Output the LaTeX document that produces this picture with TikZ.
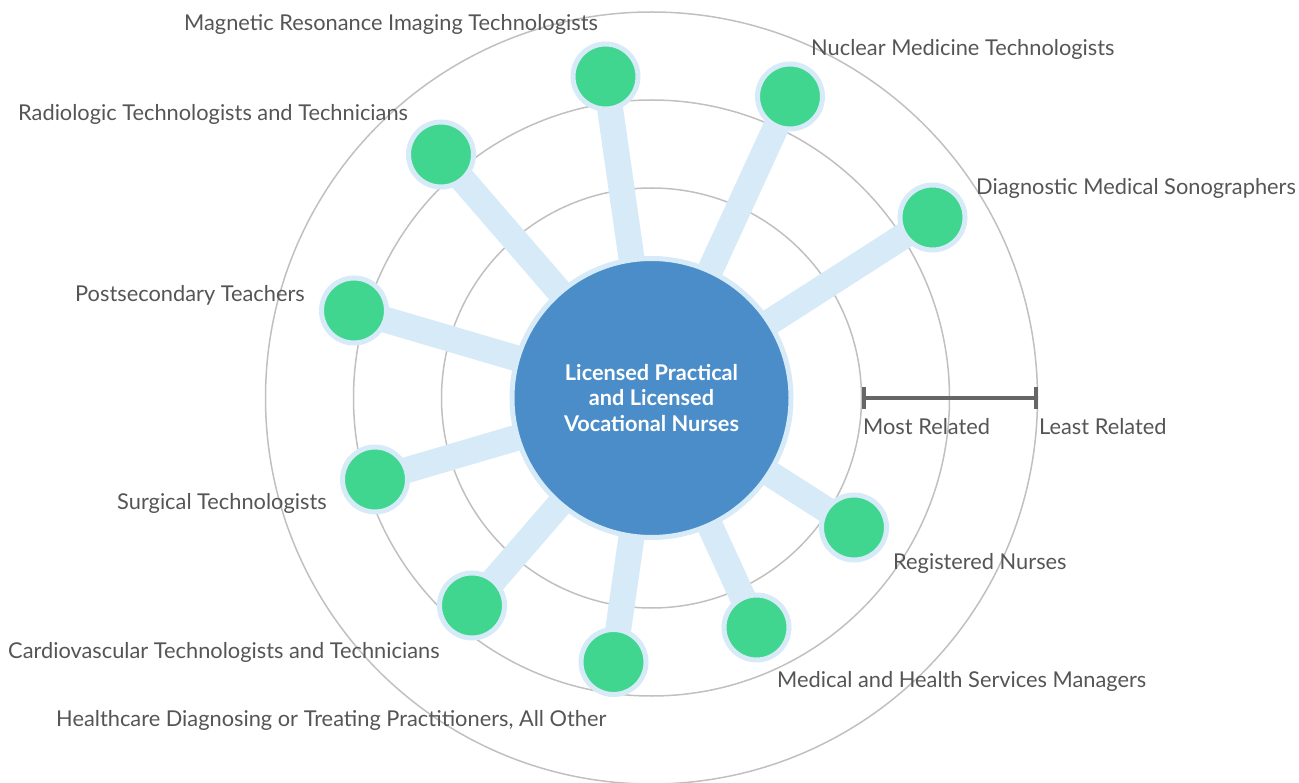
\documentclass[tikz,border=0pt]{standalone}
\usepackage{fontspec}
\setmainfont{Lato}
\usepackage{xcolor}
\usepackage{tikz}
\usetikzlibrary{arrows.meta, backgrounds}

\definecolor{jobgreen}{RGB}{65,214,143}
\definecolor{hubblue}{RGB}{74,141,200}
\definecolor{pale}{RGB}{214,234,248}
\definecolor{ringgray}{RGB}{192,192,192}
\definecolor{txtgray}{RGB}{85,85,85}
\definecolor{bargray}{RGB}{102,102,102}

\begin{document}
\begin{tikzpicture}[x=1pt, y=-1pt,
        ring/.style={draw=ringgray, line width=1.5pt},
        spoke/.style={draw=pale, line width=26pt},
        hub/.style={circle, fill=hubblue, draw=pale, line width=5pt, minimum size=279pt, inner sep=0pt,
            text=white, align=center, font=\fontsize{21.7pt}{25.5pt}\selectfont\bfseries},
        job/.style={circle, fill=jobgreen, draw=pale, line width=5pt, minimum size=65pt, inner sep=0pt},
        lbl/.style={anchor=base west, text=txtgray, inner sep=0pt, font=\fontsize{21.8pt}{25pt}\selectfont}]
        \useasboundingbox (0,0) rectangle (1299,783);

        % Center occupation
        \node[hub] (hub) at (651.5,398) {Licensed Practical\\and Licensed\\Vocational Nurses};

        % Related occupations
        \node[job] (mri) at (605.5,76.5) {};
        \node[job] (nuc) at (790,96.5) {};
        \node[job] (dms) at (932.5,217.5) {};
        \node[job] (rad) at (441,154.5) {};
        \node[job] (pst) at (354,310.5) {};
        \node[job] (sur) at (375,479.5) {};
        \node[job] (cvt) at (472,605.5) {};
        \node[job] (hcp) at (613.5,662) {};
        \node[job] (mhs) at (756.5,627.5) {};
        \node[job] (rn) at (854,527.5) {};

        % Labels
        \node[lbl] (mri-lbl) at (184,31) {Magnetic Resonance Imaging Technologists};
        \node[lbl] (nuc-lbl) at (811,56) {Nuclear Medicine Technologists};
        \node[lbl] (dms-lbl) at (976,195) {Diagnostic Medical Sonographers};
        \node[lbl] (rad-lbl) at (18,121) {Radiologic Technologists and Technicians};
        \node[lbl] (pst-lbl) at (75,302) {Postsecondary Teachers};
        \node[lbl] (sur-lbl) at (117,509) {Surgical Technologists};
        \node[lbl] (cvt-lbl) at (8,658) {Cardiovascular Technologists and Technicians};
        \node[lbl] (hcp-lbl) at (56,726) {Healthcare Diagnosing or Treating Practitioners, All Other};
        \node[lbl] (mhs-lbl) at (777,687) {Medical and Health Services Managers};
        \node[lbl] (rn-lbl) at (893,569) {Registered Nurses};

        % Scale
        \coordinate (most) at (862,398);
        \coordinate (least) at (1038,398);
        \draw[draw=bargray, line width=4pt, {Bar[width=22pt]}-{Bar[width=22pt]}] (most) -- (least);
        \node[lbl] (most-lbl) at (863,435) {Most Related};
        \node[lbl] (least-lbl) at (1039,435) {Least Related};

        % Rings and spokes
        \begin{scope}[on background layer]
            \foreach \r in {210,298,386}
                \draw[ring] (hub.center) circle[radius=\r pt];
            \foreach \j in {mri,nuc,dms,rad,pst,sur,cvt,hcp,mhs,rn}
                \draw[spoke] (hub.center) -- (\j.center);
        \end{scope}
    \end{tikzpicture}
\end{document}
